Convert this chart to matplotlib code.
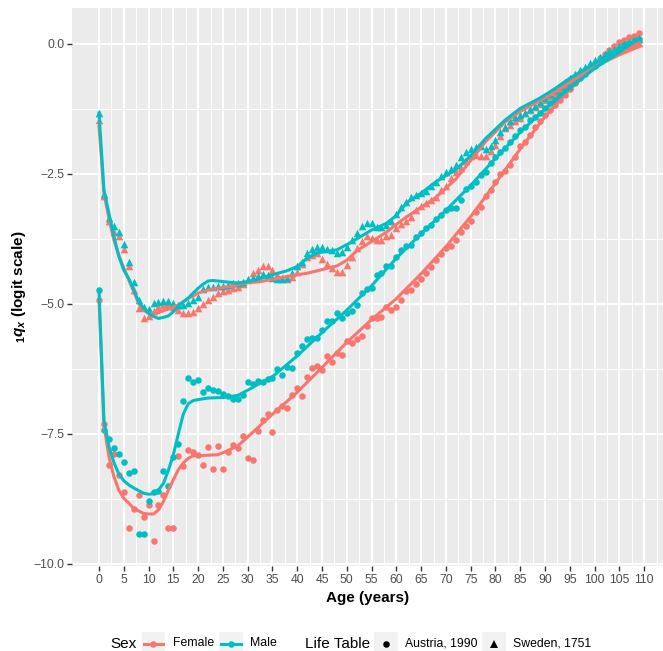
import numpy as np
import matplotlib.pyplot as plt
from matplotlib.patches import Rectangle

plt.rcParams['font.family'] = 'Liberation Sans'
plt.rcParams['mathtext.fontset'] = 'custom'
plt.rcParams['mathtext.rm'] = 'Liberation Sans:bold'
plt.rcParams['mathtext.it'] = 'Liberation Sans:bold:italic'
plt.rcParams['mathtext.bf'] = 'Liberation Sans:bold'

# colours of the two sexes (ggplot default hues)
c_female = '#F8766D'
c_male = '#00BFC4'

ages = np.arange(0, 110)

# logit 1qx per single year of age
austria_female = [
    -4.92, -7.31, -8.10, -7.89, -8.29, -8.62, -9.31, -8.94, -8.67, -9.10,
    -8.87, -9.55, -8.87, -8.67, -9.31, -9.31, -7.92, -8.11, -7.81, -7.84,
    -7.90, -8.10, -7.76, -8.17, -7.74, -8.17, -7.84, -7.72, -7.77, -7.54,
    -7.97, -8.01, -7.44, -7.23, -7.12, -7.46, -7.04, -6.96, -7.01, -6.76,
    -6.62, -6.78, -6.40, -6.24, -6.19, -6.27, -6.01, -6.11, -5.94, -5.98,
    -5.72, -5.76, -5.68, -5.62, -5.43, -5.28, -5.28, -5.26, -5.05, -5.12,
    -5.06, -4.93, -4.75, -4.74, -4.62, -4.52, -4.40, -4.29, -4.15, -4.04,
    -3.93, -3.88, -3.77, -3.61, -3.50, -3.40, -3.24, -3.13, -2.92, -2.81,
    -2.65, -2.50, -2.45, -2.33, -2.17, -1.97, -1.88, -1.75, -1.59, -1.49,
    -1.37, -1.28, -1.17, -1.08, -0.98, -0.86, -0.75, -0.64, -0.54, -0.45,
    -0.36, -0.28, -0.19, -0.11, -0.04, 0.03, 0.08, 0.13, 0.16, 0.21]

austria_male = [
    -4.74, -7.42, -7.59, -7.77, -7.89, -8.04, -8.25, -8.21, -9.42, -9.42,
    -8.79, -8.62, -8.60, -8.21, -8.51, -7.94, -7.69, -6.87, -6.43, -6.51,
    -6.46, -6.69, -6.61, -6.66, -6.68, -6.74, -6.77, -6.83, -6.83, -6.75,
    -6.51, -6.54, -6.49, -6.51, -6.44, -6.42, -6.26, -6.37, -6.21, -6.23,
    -5.95, -5.81, -5.68, -5.65, -5.65, -5.50, -5.32, -5.32, -5.17, -5.28,
    -5.17, -5.13, -5.03, -4.79, -4.71, -4.69, -4.44, -4.40, -4.27, -4.27,
    -4.10, -3.96, -3.89, -3.87, -3.72, -3.64, -3.55, -3.48, -3.37, -3.29,
    -3.19, -3.16, -3.15, -3.01, -2.79, -2.74, -2.65, -2.52, -2.47, -2.30,
    -2.17, -2.07, -2.01, -1.88, -1.77, -1.65, -1.59, -1.47, -1.41, -1.33,
    -1.24, -1.14, -1.08, -0.98, -0.90, -0.82, -0.73, -0.65, -0.57, -0.49,
    -0.42, -0.35, -0.28, -0.22, -0.15, -0.09, -0.03, 0.02, 0.06, 0.10]

sweden_female = [
    -1.47, -2.92, -3.40, -3.61, -3.70, -3.95, -4.28, -4.73, -5.08, -5.28,
    -5.23, -5.13, -5.05, -5.02, -5.00, -5.06, -5.12, -5.18, -5.18, -5.15,
    -5.08, -5.00, -4.92, -4.86, -4.79, -4.76, -4.74, -4.70, -4.67, -4.62,
    -4.54, -4.41, -4.35, -4.28, -4.28, -4.35, -4.45, -4.50, -4.52, -4.48,
    -4.38, -4.23, -4.10, -4.06, -4.03, -4.13, -4.23, -4.31, -4.38, -4.38,
    -4.25, -4.09, -3.93, -3.80, -3.70, -3.74, -3.77, -3.77, -3.70, -3.67,
    -3.55, -3.47, -3.40, -3.32, -3.19, -3.12, -3.06, -3.01, -2.94, -2.81,
    -2.73, -2.58, -2.46, -2.39, -2.26, -2.15, -2.13, -2.15, -2.15, -2.06,
    -1.94, -1.78, -1.62, -1.56, -1.49, -1.43, -1.33, -1.28, -1.22, -1.15,
    -1.08, -1.01, -0.96, -0.88, -0.80, -0.72, -0.64, -0.57, -0.50, -0.43,
    -0.37, -0.31, -0.25, -0.20, -0.15, -0.10, -0.06, -0.03, 0.00, 0.02]

sweden_male = [
    -1.33, -2.88, -3.35, -3.51, -3.62, -3.84, -4.19, -4.57, -4.92, -5.05,
    -5.10, -4.99, -4.97, -4.94, -4.94, -4.98, -5.02, -5.02, -4.98, -4.93,
    -4.86, -4.72, -4.68, -4.67, -4.66, -4.66, -4.63, -4.60, -4.59, -4.57,
    -4.53, -4.50, -4.46, -4.42, -4.45, -4.50, -4.52, -4.53, -4.50, -4.40,
    -4.28, -4.20, -4.03, -3.95, -3.90, -3.91, -3.95, -3.96, -4.03, -4.00,
    -3.90, -3.77, -3.64, -3.51, -3.44, -3.45, -3.53, -3.53, -3.48, -3.40,
    -3.27, -3.14, -3.05, -2.94, -2.90, -2.87, -2.82, -2.74, -2.65, -2.55,
    -2.47, -2.41, -2.33, -2.17, -2.07, -2.02, -1.98, -1.96, -2.02, -1.96,
    -1.85, -1.70, -1.59, -1.48, -1.41, -1.37, -1.32, -1.26, -1.19, -1.11,
    -1.04, -0.97, -0.89, -0.81, -0.73, -0.65, -0.58, -0.51, -0.44, -0.37,
    -0.31, -0.25, -0.19, -0.14, -0.09, -0.05, -0.01, 0.03, 0.07, 0.10]

# smoothed curves, read at selected ages
af_line_ages = [0, 1, 2, 3, 4, 5, 6, 7, 8, 9, 10, 11, 12, 13, 14, 15, 16, 17, 18, 19, 20,
                22, 24, 26, 28, 30, 35, 40, 45, 50, 55, 60, 65, 70, 75, 80, 85, 90, 95,
                100, 105, 109]
af_line = [-4.92, -7.33, -7.94, -8.32, -8.58, -8.74, -8.83, -8.93, -8.98, -9.03, -9.04,
           -9.04, -8.96, -8.80, -8.58, -8.38, -8.19, -8.06, -7.97, -7.92, -7.92,
           -7.91, -7.90, -7.82, -7.73, -7.56, -7.12, -6.70, -6.22, -5.74, -5.30, -4.90,
           -4.42, -3.90, -3.32, -2.68, -2.02, -1.40, -0.87, -0.45, -0.17, 0.02]

am_line_ages = [0, 1, 2, 3, 4, 5, 6, 7, 8, 9, 10, 11, 12, 13, 14, 15, 16, 17, 18, 19, 20,
                22, 25, 28, 30, 32, 35, 40, 45, 50, 55, 60, 65, 70, 75, 80, 85, 90, 95,
                100, 105, 109]
am_line = [-4.74, -7.25, -7.74, -8.05, -8.27, -8.40, -8.48, -8.54, -8.59, -8.64, -8.66,
           -8.65, -8.58, -8.45, -8.20, -7.90, -7.50, -7.12, -6.92, -6.86, -6.84,
           -6.81, -6.80, -6.76, -6.66, -6.55, -6.40, -6.00, -5.55, -5.12, -4.65, -4.12,
           -3.65, -3.20, -2.72, -2.20, -1.70, -1.25, -0.85, -0.47, -0.16, 0.12]

sf_line_ages = [0, 1, 2, 3, 4, 5, 6, 7, 8, 9, 10, 11, 12, 13, 14, 15, 16, 17, 18, 19, 20,
                22, 24, 26, 28, 30, 32, 35, 38, 40, 42, 45, 48, 50, 52, 55, 58, 60, 62,
                65, 68, 72, 75, 78, 82, 85, 89, 92, 95, 100, 105, 109]
sf_line = [-1.59, -2.87, -3.35, -3.77, -4.06, -4.31, -4.54, -4.76, -4.99, -5.12, -5.18,
           -5.18, -5.17, -5.13, -5.10, -5.06, -5.02, -4.96, -4.89, -4.85, -4.79,
           -4.73, -4.70, -4.67, -4.63, -4.59, -4.58, -4.53, -4.47, -4.44, -4.41, -4.34,
           -4.27, -4.16, -3.98, -3.80, -3.62, -3.47, -3.33, -3.14, -2.95, -2.60, -2.24,
           -1.88, -1.50, -1.30, -1.09, -0.93, -0.74, -0.44, -0.21, -0.05]

sm_line_ages = [0, 1, 2, 3, 4, 5, 6, 7, 8, 9, 10, 11, 12, 13, 14, 15, 16, 17, 18, 19, 20,
                21, 22, 23, 24, 26, 28, 30, 32, 35, 38, 40, 42, 44, 46, 48, 50, 52, 55,
                58, 60, 62, 65, 68, 72, 75, 78, 82, 85, 89, 92, 95, 100, 105, 109]
sm_line = [-1.33, -2.81, -3.26, -3.70, -4.09, -4.35, -4.51, -4.73, -4.96, -5.08, -5.18,
           -5.24, -5.28, -5.26, -5.23, -5.15, -5.04, -4.96, -4.89, -4.79, -4.70,
           -4.62, -4.56, -4.55, -4.56, -4.58, -4.60, -4.57, -4.53, -4.44, -4.36, -4.28,
           -4.12, -4.02, -3.99, -3.96, -3.86, -3.75, -3.58, -3.45, -3.30, -3.06, -2.87,
           -2.65, -2.42, -2.15, -1.82, -1.46, -1.24, -1.04, -0.86, -0.66, -0.38, -0.13,
           0.10]

x_ticks = np.arange(0, 111, 5)
y_ticks = [0, -2.5, -5, -7.5, -10]
y_labels = ['0.0', '\u22122.5', '\u22125.0', '\u22127.5', '\u221210.0']

W, H = 663, 651
fig = plt.figure(figsize=(W / 100, H / 100), dpi=100)
ax = fig.add_axes([72 / W, 1 - 566 / H, (662.5 - 72) / W, (566 - 8) / H])
ax.set_facecolor('#EBEBEB')
for s in ax.spines.values():
    s.set_visible(False)

# points first, then the smoothed lines on top
ax.scatter(ages, austria_female, s=22, marker='o', color=c_female, linewidths=0, zorder=2)
ax.scatter(ages, sweden_female, s=30, marker='^', color=c_female, linewidths=0, zorder=2)
ax.scatter(ages, austria_male, s=22, marker='o', color=c_male, linewidths=0, zorder=2)
ax.scatter(ages, sweden_male, s=30, marker='^', color=c_male, linewidths=0, zorder=2)

ax.plot(af_line_ages, af_line, color=c_female, lw=2.2, zorder=3)
ax.plot(sf_line_ages, sf_line, color=c_female, lw=2.2, zorder=3)
ax.plot(am_line_ages, am_line, color=c_male, lw=2.2, zorder=3)
ax.plot(sm_line_ages, sm_line, color=c_male, lw=2.2, zorder=3)

ax.set_xlim(-5.45, 113.7)
ax.set_ylim(-10.04, 0.69)
ax.set_xticks(x_ticks)
ax.set_xticks(np.arange(2.5, 113, 5), minor=True)
ax.set_yticks(y_ticks)
ax.set_yticklabels(y_labels)
ax.set_yticks([-1.25, -3.75, -6.25, -8.75], minor=True)
ax.grid(which='major', color='white', lw=1.4)
ax.grid(which='minor', color='white', lw=0.7)
ax.set_axisbelow(True)
ax.tick_params(which='minor', length=0)
ax.tick_params(which='major', length=3.5, width=1, color='#333333',
               labelsize=8.8, labelcolor='#4D4D4D', pad=2)

ax.set_xlabel('Age (years)', fontsize=11, fontweight='bold', labelpad=4)
ax.set_ylabel(r'$_{1}q_{x}$ (logit scale)', fontsize=11, fontweight='bold', labelpad=4)

# legend, drawn by hand in pixel coordinates
lg = fig.add_axes([0, 0, 1, 1])
lg.set_xlim(0, W)
lg.set_ylim(H, 0)
lg.axis('off')
yc = 643.5
k = 23.5
lg.text(110, yc, 'Sex', fontsize=11, ha='left', va='center')
for x0, col, lab in [(141.7, c_female, 'Female'), (219.3, c_male, 'Male')]:
    lg.add_patch(Rectangle((x0, yc - k / 2), k, k, color='#F2F2F2', lw=0))
    lg.plot([x0 + 2, x0 + k - 2], [yc, yc], color=col, lw=2.2)
    lg.plot([x0 + k / 2], [yc], 'o', color=col, ms=4.7, mew=0)
    lg.text(x0 + k + 7.5, yc, lab, fontsize=8.8, ha='left', va='center')
lg.text(305, yc, 'Life Table', fontsize=11, ha='left', va='center')
for x0, mk, lab in [(374, 'o', 'Austria, 1990'), (482, '^', 'Sweden, 1751')]:
    lg.add_patch(Rectangle((x0, yc - k / 2), k, k, color='#F2F2F2', lw=0))
    lg.plot([x0 + k / 2], [yc], mk, color='black', ms=4.7 if mk == 'o' else 5.4, mew=0)
    lg.text(x0 + k + 7.5, yc, lab, fontsize=8.8, ha='left', va='center')

fig.savefig('out.png', dpi=100)
